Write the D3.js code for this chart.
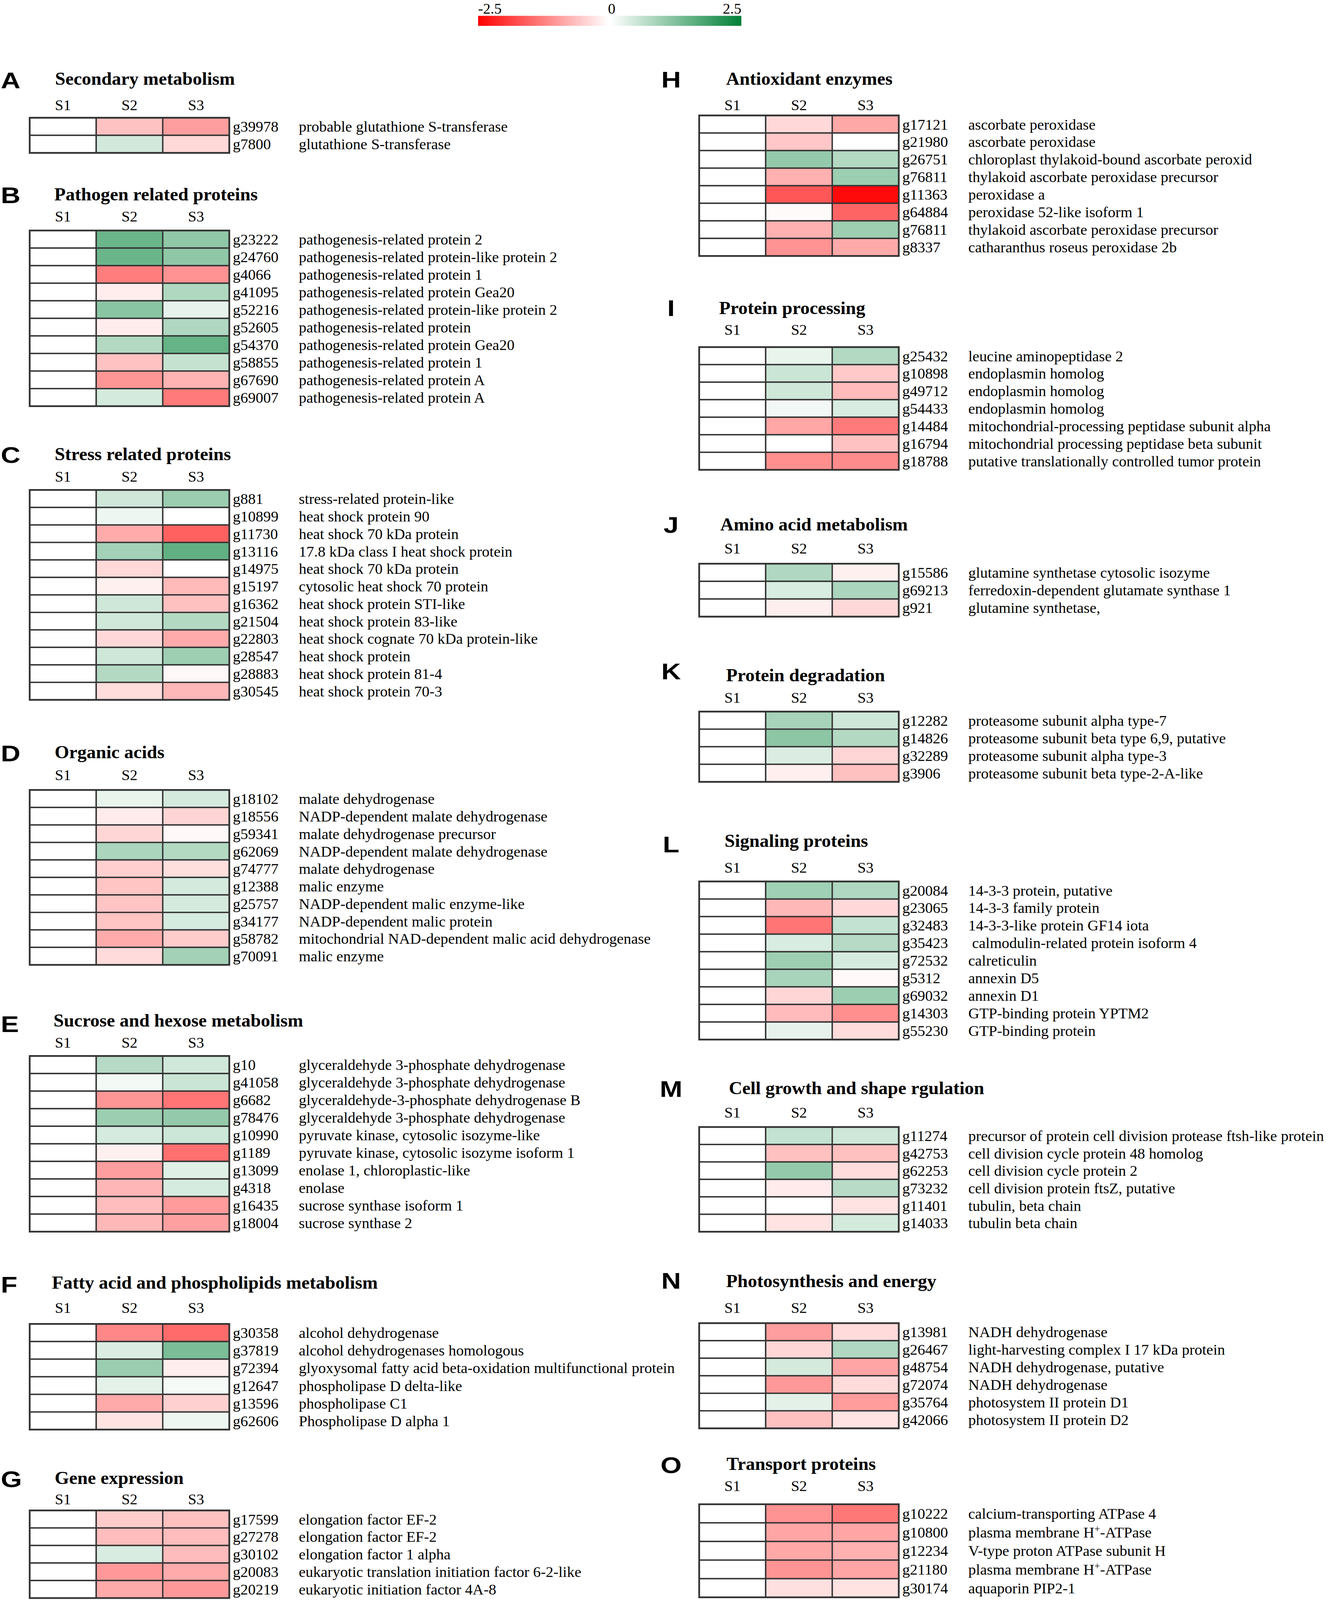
<!DOCTYPE html>
<html>
<head>
<meta charset="utf-8">
<script src="https://cdn.jsdelivr.net/npm/d3@7"></script>
<style>
html, body { margin: 0; padding: 0; background: #fff; overflow: hidden; }
text { white-space: pre; }
</style>
</head>
<body>
<div id="chart"></div>
<script>
// Samples (columns)
var samples = ["S1", "S2", "S3"];

// Panels
var panelLetters = ["A", "B", "C", "D", "E", "F", "G", "H", "I", "J", "K", "L", "M", "N", "O"];
var panelTitles = [
    "Secondary metabolism",
    "Pathogen related proteins",
    "Stress related proteins",
    "Organic acids",
    "Sucrose and hexose metabolism",
    "Fatty acid and phospholipids metabolism",
    "Gene expression",
    "Antioxidant enzymes",
    "Protein processing",
    "Amino acid metabolism",
    "Protein degradation",
    "Signaling proteins",
    "Cell growth and shape rgulation",
    "Photosynthesis and energy",
    "Transport proteins"
];

// Gene ids per panel
var geneIds = [
    ["g39978", "g7800"],
    ["g23222", "g24760", "g4066", "g41095", "g52216", "g52605", "g54370", "g58855", "g67690", "g69007"],
    ["g881", "g10899", "g11730", "g13116", "g14975", "g15197", "g16362", "g21504", "g22803", "g28547", "g28883", "g30545"],
    ["g18102", "g18556", "g59341", "g62069", "g74777", "g12388", "g25757", "g34177", "g58782", "g70091"],
    ["g10", "g41058", "g6682", "g78476", "g10990", "g1189", "g13099", "g4318", "g16435", "g18004"],
    ["g30358", "g37819", "g72394", "g12647", "g13596", "g62606"],
    ["g17599", "g27278", "g30102", "g20083", "g20219"],
    ["g17121", "g21980", "g26751", "g76811", "g11363", "g64884", "g76811", "g8337"],
    ["g25432", "g10898", "g49712", "g54433", "g14484", "g16794", "g18788"],
    ["g15586", "g69213", "g921"],
    ["g12282", "g14826", "g32289", "g3906"],
    ["g20084", "g23065", "g32483", "g35423", "g72532", "g5312", "g69032", "g14303", "g55230"],
    ["g11274", "g42753", "g62253", "g73232", "g11401", "g14033"],
    ["g13981", "g26467", "g48754", "g72074", "g35764", "g42066"],
    ["g10222", "g10800", "g12234", "g21180", "g30174"]
];

// Gene descriptions per panel
var geneNames = [
    ["probable glutathione S-transferase", "glutathione S-transferase"],
    ["pathogenesis-related protein 2", "pathogenesis-related protein-like protein 2", "pathogenesis-related protein 1",
     "pathogenesis-related protein Gea20", "pathogenesis-related protein-like protein 2", "pathogenesis-related protein",
     "pathogenesis-related protein Gea20", "pathogenesis-related protein 1", "pathogenesis-related protein A",
     "pathogenesis-related protein A"],
    ["stress-related protein-like", "heat shock protein 90", "heat shock 70 kDa protein", "17.8 kDa class I heat shock protein",
     "heat shock 70 kDa protein", "cytosolic heat shock 70 protein", "heat shock protein STI-like", "heat shock protein 83-like",
     "heat shock cognate 70 kDa protein-like", "heat shock protein", "heat shock protein 81-4", "heat shock protein 70-3"],
    ["malate dehydrogenase", "NADP-dependent malate dehydrogenase", "malate dehydrogenase precursor",
     "NADP-dependent malate dehydrogenase", "malate dehydrogenase", "malic enzyme", "NADP-dependent malic enzyme-like",
     "NADP-dependent malic protein", "mitochondrial NAD-dependent malic acid dehydrogenase", "malic enzyme"],
    ["glyceraldehyde 3-phosphate dehydrogenase", "glyceraldehyde 3-phosphate dehydrogenase",
     "glyceraldehyde-3-phosphate dehydrogenase B", "glyceraldehyde 3-phosphate dehydrogenase",
     "pyruvate kinase, cytosolic isozyme-like", "pyruvate kinase, cytosolic isozyme isoform 1",
     "enolase 1, chloroplastic-like", "enolase", "sucrose synthase isoform 1", "sucrose synthase 2"],
    ["alcohol dehydrogenase", "alcohol dehydrogenases homologous",
     "glyoxysomal fatty acid beta-oxidation multifunctional protein", "phospholipase D delta-like",
     "phospholipase C1", "Phospholipase D alpha 1"],
    ["elongation factor EF-2", "elongation factor EF-2", "elongation factor 1 alpha",
     "eukaryotic translation initiation factor 6-2-like", "eukaryotic initiation factor 4A-8"],
    ["ascorbate peroxidase", "ascorbate peroxidase", "chloroplast thylakoid-bound ascorbate peroxid",
     "thylakoid ascorbate peroxidase precursor", "peroxidase a", "peroxidase 52-like isoform 1",
     "thylakoid ascorbate peroxidase precursor", "catharanthus roseus peroxidase 2b"],
    ["leucine aminopeptidase 2", "endoplasmin homolog", "endoplasmin homolog", "endoplasmin homolog",
     "mitochondrial-processing peptidase subunit alpha", "mitochondrial processing peptidase beta subunit",
     "putative translationally controlled tumor protein"],
    ["glutamine synthetase cytosolic isozyme", "ferredoxin-dependent glutamate synthase 1", "glutamine synthetase,"],
    ["proteasome subunit alpha type-7", "proteasome subunit beta type 6,9, putative", "proteasome subunit alpha type-3",
     "proteasome subunit beta type-2-A-like"],
    ["14-3-3 protein, putative", "14-3-3 family protein", "14-3-3-like protein GF14 iota",
     " calmodulin-related protein isoform 4", "calreticulin", "annexin D5", "annexin D1",
     "GTP-binding protein YPTM2", "GTP-binding protein"],
    ["precursor of protein cell division protease ftsh-like protein", "cell division cycle protein 48 homolog",
     "cell division cycle protein 2", "cell division protein ftsZ, putative", "tubulin, beta chain", "tubulin beta chain"],
    ["NADH dehydrogenase", "light-harvesting complex I 17 kDa protein", "NADH dehydrogenase, putative",
     "NADH dehydrogenase", "photosystem II protein D1", "photosystem II protein D2"],
    ["calcium-transporting ATPase 4", "plasma membrane H+-ATPase", "V-type proton ATPase subunit H",
     "plasma membrane H+-ATPase", "aquaporin PIP2-1"]
];

// Log fold values
var valuesS1 = [
    [0, 0],
    [0, 0, 0, 0, 0, 0, 0, 0, 0, 0],
    [0, 0, 0, 0, 0, 0, 0, 0, 0, 0, 0, 0],
    [0, 0, 0, 0, 0, 0, 0, 0, 0, 0],
    [0, 0, 0, 0, 0, 0, 0, 0, 0, 0],
    [0, 0, 0, 0, 0, 0],
    [0, 0, 0, 0, 0],
    [0, 0, 0, 0, 0, 0, 0, 0],
    [0, 0, 0, 0, 0, 0, 0],
    [0, 0, 0],
    [0, 0, 0, 0],
    [0, 0, 0, 0, 0, 0, 0, 0, 0],
    [0, 0, 0, 0, 0, 0],
    [0, 0, 0, 0, 0, 0],
    [0, 0, 0, 0, 0]
];
var valuesS2 = [
    [-0.6, 0.45],
    [1.45, 1.45, -1.27, -0.18, 1.15, -0.18, 0.75, -0.6, -1.03, 0.42],
    [0.48, 0.18, -0.82, 0.9, -0.38, -0.15, 0.48, 0.46, -0.37, 0.48, 0.75, -0.33],
    [0.22, -0.2, -0.4, 0.82, -0.47, -0.58, -0.58, -0.58, -0.82, -0.35],
    [0.72, 0.12, -1.03, 0.97, 0.4, -0.15, -0.95, -0.72, -0.65, -0.7],
    [-1.18, 0.35, 0.98, 0.27, -0.83, -0.27],
    [-0.5, -0.65, 0.37, -1.0, -0.83],
    [-0.37, -0.55, 1.05, -0.77, -1.65, -0.05, -0.77, -1.07],
    [0.22, 0.52, 0.48, 0.13, -0.87, 0, -1.1],
    [0.78, 0.38, -0.17],
    [0.87, 1.13, 0.35, -0.16],
    [0.93, -0.7, -1.35, 0.37, 0.95, 0.85, -0.4, -0.67, 0.25],
    [0.58, -0.62, 1.05, -0.2, 0, -0.27],
    [-0.95, -0.4, 0.42, -1.0, 0.27, -0.62],
    [-1.07, -0.88, -0.85, -1.05, -0.3]
];
var valuesS3 = [
    [-0.95, -0.38],
    [1.1, 1.1, -1.07, 0.77, 0.25, 0.78, 1.5, 0.57, -0.75, -1.3],
    [0.98, 0, -1.55, 1.55, 0, -0.68, -0.62, 0.75, -0.82, 0.95, -0.07, -0.7],
    [0.42, -0.42, -0.07, 0.75, -0.32, 0.42, 0.42, 0.4, -0.5, 0.9],
    [0.46, 0.52, -1.35, 1.05, 0.5, -1.4, 0.3, 0.4, -0.98, -0.93],
    [-1.45, 1.3, -0.17, 0.1, -0.46, 0.17],
    [-0.62, -0.65, -0.66, -0.82, -1.0],
    [-0.85, 0, 0.75, 0.97, -2.4, -1.52, 0.96, -0.83],
    [0.75, -0.53, -0.67, 0.38, -1.3, -0.6, -1.13],
    [-0.15, 0.82, -0.37],
    [0.48, 0.75, -0.4, -0.62],
    [0.78, -0.37, 0.58, 0.72, 0.4, -0.06, 0.97, -1.1, -0.35],
    [0.48, -0.62, -0.33, 0.7, -0.27, 0.42],
    [-0.35, 0.78, -0.88, -0.35, -0.97, -0.27],
    [-1.32, -0.88, -0.77, -0.88, -0.27]
];

// Colour key ticks
var legendTicks = [-2.5, 0, 2.5];

// Panel placement: [column, letter baseline, title x, title baseline, header baseline, table top, row height]
var panelLayout = [
    [0, 229, 141, 220, 285, 305, 45.5],
    [0, 526, 139, 519, 574, 597, 45.5],
    [0, 1199, 140, 1192, 1247, 1269, 45.3],
    [0, 1972, 140, 1964, 2020, 2046, 45.3],
    [0, 2673, 137, 2659, 2713, 2735, 45.5],
    [0, 3348, 133, 3338, 3400, 3429, 45.6],
    [0, 3852, 140, 3844, 3896, 3912, 45.4],
    [1, 227, 1859, 220, 285, 299, 45.5],
    [1, 818, 1841, 813, 867, 899, 45.4],
    [1, 1380, 1844, 1374, 1434, 1460, 45.7],
    [1, 1759, 1859, 1764, 1820, 1843, 45.5],
    [1, 2208, 1855, 2193, 2260, 2283, 45.5],
    [1, 2841, 1866, 2834, 2895, 2919, 45.2],
    [1, 3338, 1859, 3334, 3400, 3427, 45.4],
    [1, 3815, 1860, 3807, 3862, 3896, 48.2]
];

var svgWidth = 3405;
var svgHeight = 4144;
var tableXs = [76, 1790];
var tableWidth = 511;
var serif = "'Liberation Serif', 'Times New Roman', serif";

// Drawing space is 3405 x 4144, stretched to whatever the window shows
var svg = d3.select("#chart")
    .append("svg")
    .attr("viewBox", `0 0 ${svgWidth} ${svgHeight}`)
    .attr("preserveAspectRatio", "none")
    .style("width", "100vw")
    .style("height", "100vh")
    .style("display", "block");

var color = d3.scaleLinear()
    .domain([-2.5, 0, 2.5])
    .range(["#ff0000", "#ffffff", "#008037"]);

// Colour key
var legendX = d3.scaleLinear().domain([-2.5, 2.5]).range([1224, 1898]);
var defs = svg.append("defs");

function addGradient(id, from, to) {
    var grad = defs.append("linearGradient").attr("id", id);
    d3.range(11).forEach(function(k) {
        var v = from + (to - from) * k / 10;
        grad.append("stop")
            .attr("offset", (k * 10) + "%")
            .attr("stop-color", color(v));
    });
}
addGradient("gradNeg", -2.5, 0);
addGradient("gradPos", 0, 2.5);

svg.append("rect")
    .attr("x", legendX(-2.5))
    .attr("y", 41)
    .attr("width", legendX(0) - 3 - legendX(-2.5))
    .attr("height", 26)
    .attr("fill", "url(#gradNeg)");

svg.append("rect")
    .attr("x", legendX(0) + 3)
    .attr("y", 41)
    .attr("width", legendX(2.5) - legendX(0) - 3)
    .attr("height", 26)
    .attr("fill", "url(#gradPos)");

svg.selectAll(".legendTick")
    .data(legendTicks)
    .enter()
    .append("text")
    .attr("class", "legendTick")
    .attr("x", d => d === 0 ? legendX(d) + 5 : legendX(d))
    .attr("y", 35)
    .attr("text-anchor", (d, i) => i === 0 ? "start" : (i === legendTicks.length - 1 ? "end" : "middle"))
    .style("font-family", serif)
    .style("font-size", "38px")
    .text(d => d);

// Panels
panelTitles.forEach(function(title, i) {
    var lay = panelLayout[i];
    var tableX = tableXs[lay[0]];
    var rowH = lay[6];
    var n = geneIds[i].length;
    var g = svg.append("g").attr("class", "panel");

    // Panel letter (left column letters sit at the page edge)
    var letterPos = lay[0] === 0 ? "translate(2, " + lay[1] + ") scale(1.2, 1)"
                                 : "translate(1718, " + lay[1] + ") scale(1.2, 1)";
    g.append("text")
        .attr("transform", letterPos)
        .attr("text-anchor", lay[0] === 0 ? "start" : "middle")
        .style("font-family", "'Liberation Sans', Arial, sans-serif")
        .style("font-weight", "bold")
        .style("font-size", "58px")
        .text(panelLetters[i]);

    // Title
    g.append("text")
        .attr("x", lay[2])
        .attr("y", lay[3])
        .style("font-family", serif)
        .style("font-weight", "bold")
        .style("font-size", "47.5px")
        .text(title);

    var x = d3.scaleBand()
        .domain(samples)
        .range([tableX, tableX + tableWidth]);

    var y = d3.scaleBand()
        .domain(d3.range(n))
        .range([lay[5], lay[5] + rowH * n]);

    // Column headers
    g.selectAll(".header")
        .data(samples)
        .enter()
        .append("text")
        .attr("x", d => x(d) + x.bandwidth() / 2)
        .attr("y", lay[4])
        .attr("text-anchor", "middle")
        .style("font-family", serif)
        .style("font-size", "39px")
        .text(d => d);

    var rows = geneIds[i].map(function(id, j) {
        return {
            id: id,
            name: geneNames[i][j],
            vals: [valuesS1[i][j], valuesS2[i][j], valuesS3[i][j]],
            idx: j
        };
    });

    var cells = [];
    rows.forEach(function(r) {
        samples.forEach(function(s, k) {
            cells.push({ row: r.idx, sample: s, value: r.vals[k] });
        });
    });

    g.selectAll(".cell")
        .data(cells)
        .enter()
        .append("rect")
        .attr("class", "cell")
        .attr("x", d => x(d.sample))
        .attr("y", d => y(d.row))
        .attr("width", x.bandwidth())
        .attr("height", y.bandwidth())
        .attr("fill", d => color(d.value))
        .attr("stroke", "#333")
        .attr("stroke-width", 3.5);

    // Outer frame
    g.append("rect")
        .attr("x", tableX)
        .attr("y", lay[5])
        .attr("width", tableWidth)
        .attr("height", rowH * n)
        .attr("fill", "none")
        .attr("stroke", "#333")
        .attr("stroke-width", 4.5);

    // Gene ids
    g.selectAll(".geneId")
        .data(rows)
        .enter()
        .append("text")
        .attr("x", tableX + tableWidth + 9)
        .attr("y", d => y(d.idx) + y.bandwidth() / 2)
        .attr("dy", "0.35em")
        .style("font-family", serif)
        .style("font-size", "39px")
        .text(d => d.id);

    // Gene descriptions
    var names = g.selectAll(".geneName")
        .data(rows)
        .enter()
        .append("text")
        .attr("x", tableX + 689)
        .attr("y", d => y(d.idx) + y.bandwidth() / 2)
        .attr("dy", "0.35em")
        .style("font-family", serif)
        .style("font-size", "39px");

    names.each(function(d) {
        var t = d3.select(this);
        var parts = d.name.split("H+");
        if (parts.length > 1) {
            t.append("tspan").text(parts[0] + "H");
            t.append("tspan")
                .attr("baseline-shift", "super")
                .style("font-size", "26px")
                .text("+");
            t.append("tspan").text(parts[1]);
        } else {
            t.text(d.name);
        }
    });
});
</script>
</body>
</html>
